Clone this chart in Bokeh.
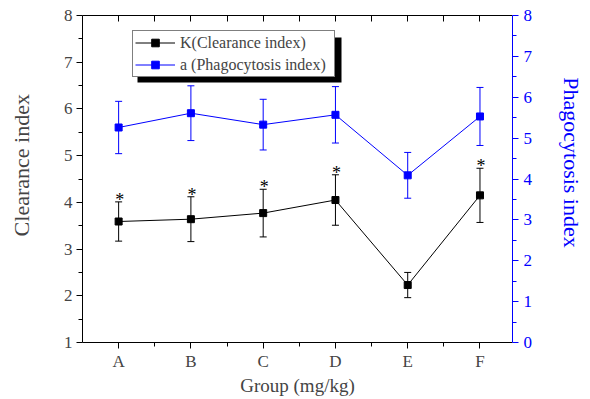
from bokeh.plotting import figure
from bokeh.models import (Range1d, LinearAxis, FixedTicker, ColumnDataSource, Whisker, TeeHead,
                          Legend, LegendItem, BoxAnnotation)
from bokeh.core.properties import value
from bokeh.embed import file_html
from bokeh.resources import INLINE

# ---- data ----
groups = ["A", "B", "C", "D", "E", "F"]
k_mean = [3.59, 3.64, 3.77, 4.05, 2.23, 4.15]
k_err = [0.42, 0.48, 0.51, 0.54, 0.27, 0.58]
a_mean = [5.26, 5.61, 5.33, 5.57, 4.09, 5.53]
a_err = [0.64, 0.67, 0.62, 0.69, 0.56, 0.71]
marks = ["*", "*", "*", "*", "", "*"]
left_ticks = [1, 2, 3, 4, 5, 6, 7, 8]
right_ticks = [0, 1, 2, 3, 4, 5, 6, 7, 8]

FONT = "Liberation Serif"
BLUE = "#0000ff"
NB = "\u00a0"

xs = list(range(1, len(groups) + 1))
src = ColumnDataSource(dict(
    x=xs,
    k=k_mean, k_hi=[m + e for m, e in zip(k_mean, k_err)], k_lo=[m - e for m, e in zip(k_mean, k_err)],
    a=a_mean, a_hi=[m + e for m, e in zip(a_mean, a_err)], a_lo=[m - e for m, e in zip(a_mean, a_err)],
    mark=marks,
))

X0, X1 = 0.5, 6.45
Y0, Y1 = 1, 8
# frame edges in canvas pixels (for decorations only)
FL, FR, FT, FB = 82, 512, 15, 342
W, H = 590, 399
p = figure(width=W, height=H, x_range=Range1d(X0, X1), y_range=Range1d(Y0, Y1),
           output_backend="svg", toolbar_location=None,
           min_border_left=FL, min_border_right=W - FR, min_border_top=FT, min_border_bottom=H - FB)
p.extra_y_ranges = {"right": Range1d(0, 8)}
p.xgrid.visible = False
p.ygrid.visible = False
p.outline_line_color = None
p.background_fill_color = "white"
p.border_fill_color = "white"

def px2x(px):
    return X0 + (px - FL) / (FR - FL) * (X1 - X0)
def px2y(py):
    return Y0 + (FB - py) / (FB - FT) * (Y1 - Y0)

minor_x = [i + 0.5 for i in xs[:-1]]

# bottom axis
xa = p.xaxis[0]
xa.ticker = FixedTicker(ticks=xs, minor_ticks=minor_x)
xa.major_label_overrides = {i: g for i, g in zip(xs, groups)}
xa.axis_label = "Group (mg/kg)"
xa.major_tick_out = 6; xa.major_tick_in = 0
xa.minor_tick_out = 4; xa.minor_tick_in = 0
xa.major_label_standoff = 3
xa.axis_label_standoff = 1
xa.major_label_text_font = FONT
xa.major_label_text_font_size = "17px"
xa.axis_label_text_font = FONT
xa.axis_label_text_font_size = "19px"
xa.axis_label_text_font_style = "normal"
xa.axis_line_color = "black"

# left axis
ya = p.yaxis[0]
ya.ticker = FixedTicker(ticks=left_ticks, minor_ticks=[t + 0.5 for t in left_ticks[:-1]])
ya.axis_label = NB * 5 + "Clearance index"
ya.major_tick_out = 6; ya.major_tick_in = 0
ya.minor_tick_out = 4; ya.minor_tick_in = 0
ya.major_label_standoff = 4
ya.axis_label_standoff = 27
ya.major_label_text_font = FONT
ya.major_label_text_font_size = "17px"
ya.axis_label_text_font = FONT
ya.axis_label_text_font_size = "22px"
ya.axis_label_text_font_style = "normal"

# top axis (ticks inward, no labels): all ticks drawn as equal-length minor ticks
top = LinearAxis(ticker=FixedTicker(ticks=[], minor_ticks=sorted(xs + minor_x)),
                 major_label_standoff=0, axis_label_standoff=0,
                 major_tick_in=0, major_tick_out=0, minor_tick_in=6, minor_tick_out=0,
                 axis_line_color="black")
p.add_layout(top, "above")

# right axis
ra = LinearAxis(y_range_name="right",
                ticker=FixedTicker(ticks=right_ticks, minor_ticks=[t + 0.5 for t in right_ticks[:-1]]),
                major_tick_out=6, major_tick_in=0, minor_tick_out=4, minor_tick_in=0,
                major_label_standoff=5, axis_label="Phagocytosis index" + NB * 6, axis_label_standoff=24,
                axis_line_color=BLUE, major_tick_line_color=BLUE, minor_tick_line_color=BLUE,
                major_label_text_color=BLUE, major_label_text_font=FONT,
                major_label_text_font_size="17px",
                axis_label_text_color=BLUE, axis_label_text_font=FONT,
                axis_label_text_font_size="22px", axis_label_text_font_style="normal")
p.add_layout(ra, "right")

# error bars
p.add_layout(Whisker(source=src, base="x", upper="k_hi", lower="k_lo", line_color="black", line_width=1,
                     upper_head=TeeHead(size=7, line_color="black"),
                     lower_head=TeeHead(size=7, line_color="black")))
p.add_layout(Whisker(source=src, base="x", upper="a_hi", lower="a_lo", y_range_name="right",
                     line_color=BLUE, line_width=1,
                     upper_head=TeeHead(size=7, line_color=BLUE),
                     lower_head=TeeHead(size=7, line_color=BLUE)))

# series
kl = p.line("x", "k", source=src, line_color="black", line_width=1)
ks = p.scatter("x", "k", source=src, marker="square", size=7, fill_color="black", line_color="black")
al = p.line("x", "a", source=src, line_color=BLUE, line_width=1, y_range_name="right")
as_ = p.scatter("x", "a", source=src, marker="square", size=7, fill_color=BLUE, line_color=BLUE,
                y_range_name="right")

# significance marks
p.text("x", "k_hi", text="mark", source=src, text_font=value(FONT), text_font_size="18px",
       text_align="center", text_baseline="alphabetic", x_offset=1, y_offset=-2, text_color="black")

# legend shadow
p.add_layout(BoxAnnotation(left=px2x(137), right=px2x(341), top=px2y(37), bottom=px2y(82),
                           fill_color="black", fill_alpha=1, line_color=None, level="annotation"))

legend = Legend(items=[LegendItem(label="K(Clearance index)", renderers=[kl, ks]),
                       LegendItem(label="a (Phagocytosis index)", renderers=[al, as_])],
                location=(132 - FL, FB - 77), margin=0, padding=2, spacing=3,
                label_height=19, glyph_height=19, glyph_width=40, label_standoff=5, label_width=152,
                label_text_font=FONT, label_text_font_size="16px",
                border_line_color="black", border_line_width=1,
                background_fill_color="white", background_fill_alpha=1)
p.add_layout(legend)

open("out.html", "w").write(file_html(p, INLINE))
